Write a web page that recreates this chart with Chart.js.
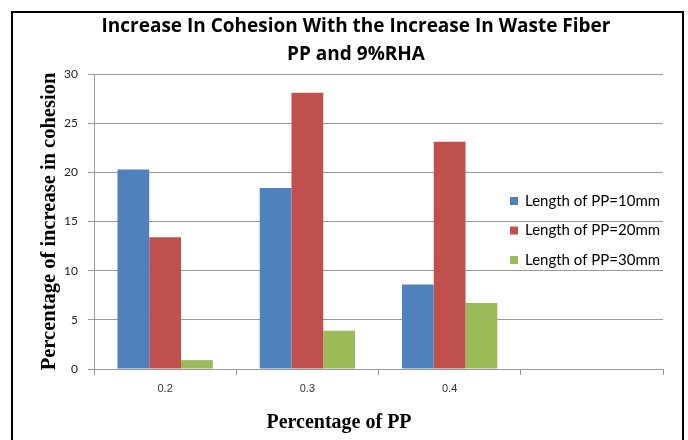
<!DOCTYPE html>
<html lang="en">
<head>
    <meta charset="UTF-8">
    <title>Increase In Cohesion</title>
    <style>
        html, body { margin: 0; padding: 0; background: #fff; }
        #wrap { position: relative; width: 688px; height: 440px; overflow: hidden; }
        #wrap canvas { position: absolute; left: 0; top: 0; }
        /* black frame around the whole chart, cut off at the bottom like the original */
        #frame { position: absolute; left: 11px; top: 11px; width: 673px; height: 460px;
                 border: 2.5px solid #000; box-sizing: border-box; pointer-events: none; }
    </style>
    <script src="https://cdn.jsdelivr.net/npm/chart.js"></script>
</head>
<body>
<div id="wrap">
    <canvas id="chart" width="688" height="440"></canvas>
    <div id="frame"></div>
</div>

<script>
    // data
    const categories = ['0.2', '0.3', '0.4', ''];
    const seriesNames = ['Length of PP=10mm', 'Length of PP=20mm', 'Length of PP=30mm'];
    const len10 = [20.3, 18.4, 8.6, null];
    const len20 = [13.4, 28.1, 23.1, null];
    const len30 = [0.9, 3.9, 6.7, null];
    const yTicks = [0, 5, 10, 15, 20, 25, 30];
    const colors = ['#4F81BD', '#C0504D', '#9BBB59'];

    const gridGray = '#9a9a9a';

    // legend sits inside the plot area, over the grid lines
    const insideLegend = {
        id: 'insideLegend',
        afterDatasetsDraw(chart) {
            const ctx = chart.ctx;
            ctx.save();
            ctx.font = '15px Lato';
            ctx.textBaseline = 'middle';
            ctx.textAlign = 'left';
            chart.data.datasets.forEach((ds, i) => {
                const y = 201 + i * 29.5;
                ctx.fillStyle = ds.backgroundColor;
                ctx.fillRect(510, y - 4, 8, 8);
                ctx.fillStyle = '#000';
                ctx.fillText(ds.label, 525, y);
            });
            ctx.restore();
        }
    };

    // x axis title is not centred on the plot in the original
    const xTitle = {
        id: 'xTitle',
        afterDraw(chart) {
            const ctx = chart.ctx;
            ctx.save();
            ctx.font = 'bold 20px "Liberation Serif"';
            ctx.fillStyle = '#000';
            ctx.textAlign = 'center';
            ctx.textBaseline = 'alphabetic';
            ctx.fillText('Percentage of PP', 339, 428);
            ctx.restore();
        }
    };

    new Chart(document.getElementById('chart'), {
        type: 'bar',
        data: {
            labels: categories,
            datasets: [
                { label: seriesNames[0], data: len10, backgroundColor: colors[0] },
                { label: seriesNames[1], data: len20, backgroundColor: colors[1] },
                { label: seriesNames[2], data: len30, backgroundColor: colors[2] }
            ]
        },
        options: {
            responsive: false,
            animation: false,
            layout: { padding: { left: 24, right: 0, top: 0, bottom: 0 } },
            datasets: { bar: { barPercentage: 1, categoryPercentage: 0.67 } },
            plugins: {
                legend: { display: false },
                tooltip: { enabled: false },
                title: {
                    display: true,
                    text: ['Increase In Cohesion With the Increase In Waste Fiber', 'PP and 9%RHA'],
                    color: '#000',
                    font: { family: 'Open Sans', size: 19, weight: 'bold', lineHeight: 28 / 19 },
                    padding: { top: 13, bottom: 5 }
                }
            },
            scales: {
                x: {
                    grid: { offset: true, drawOnChartArea: false, drawTicks: true, tickLength: 6, color: gridGray },
                    border: { color: gridGray },
                    ticks: { color: '#333', font: { family: 'Liberation Sans', size: 11 }, padding: 7 },
                    afterFit(s) { s.height = 71; }
                },
                y: {
                    min: 0,
                    max: 30,
                    afterBuildTicks(s) { s.ticks = yTicks.map(v => ({ value: v })); },
                    grid: { color: gridGray, tickLength: 6 },
                    border: { color: gridGray },
                    ticks: { color: '#222', font: { family: 'Lato', size: 12 }, padding: 10 },
                    title: {
                        display: true,
                        text: 'Percentage of increase in cohesion',
                        color: '#000',
                        font: { family: 'Liberation Serif', size: 20.5, weight: 'bold' },
                        padding: { top: 13, bottom: 0 }
                    },
                    afterFit(s) { s.width = 70; }
                },
                // empty right axis only reserves the margin right of the plot
                y2: {
                    position: 'right',
                    grid: { display: false },
                    border: { display: false },
                    ticks: { display: false },
                    afterFit(s) { s.width = 25; }
                }
            }
        },
        plugins: [insideLegend, xTitle]
    });
</script>
</body>
</html>
